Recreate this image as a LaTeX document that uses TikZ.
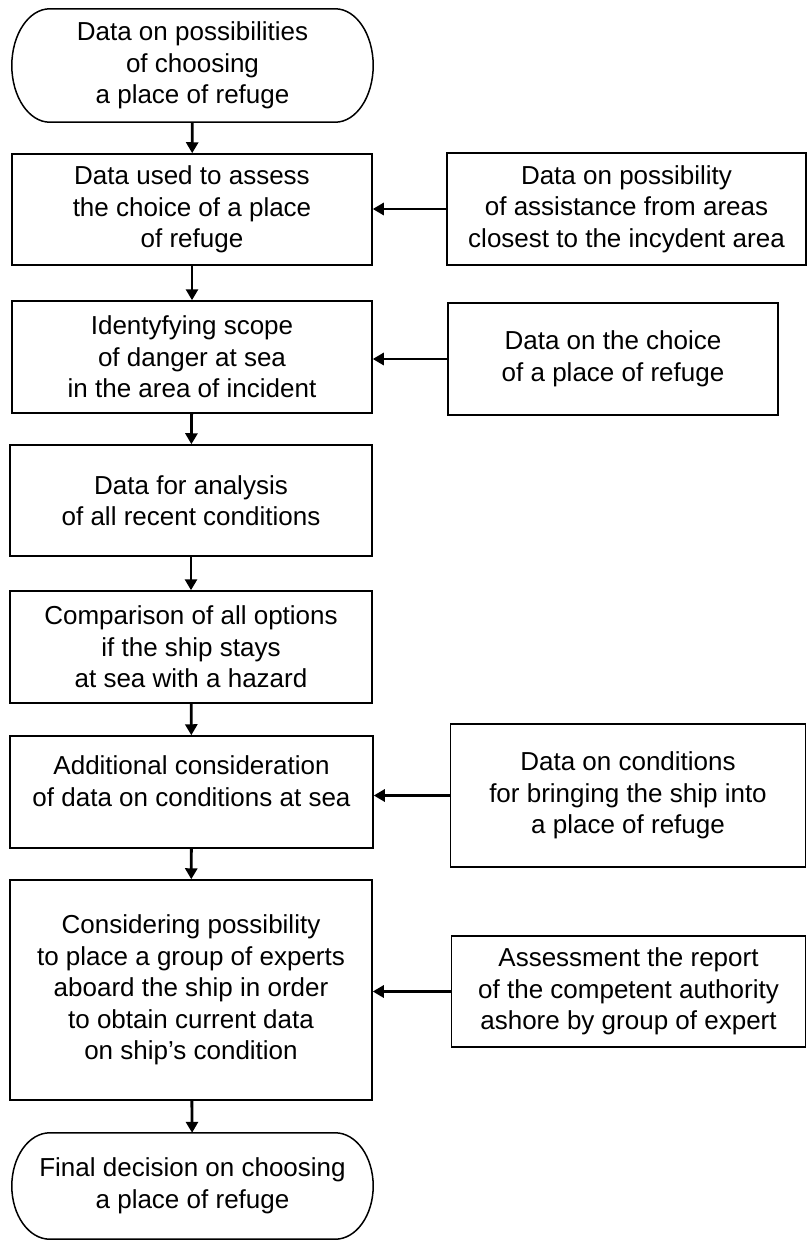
\documentclass[tikz,border=0pt]{standalone}
\usepackage{fontspec}
\setmainfont{Liberation Sans}
\usetikzlibrary{arrows.meta,calc}
\begin{document}
\begin{tikzpicture}[x=1pt,y=-1pt,
  box/.style={draw=black, line width=1.5pt, rectangle, align=center, inner sep=0pt,
    font=\fontsize{26}{31.5}\selectfont},
  termbox/.style={draw=none, rectangle, align=center, inner sep=0pt,
    font=\fontsize{26}{31.5}\selectfont},
  outline/.style={draw=black, line width=1.5pt},
  arr/.style={draw=black, line width=2.8pt, -{Triangle[length=11pt,width=12pt]}}
]
\useasboundingbox (0,0) rectangle (806,1241);
\fill[white] (0,0) rectangle (806,1241);

% left column
\node[termbox, minimum width=361pt, minimum height=113pt] (t1) at (192.5,65.5)
  {Data on possibilities\\of choosing\\a place of refuge};
\node[box, minimum width=360pt, minimum height=111pt] (b1) at (192,209.5)
  {Data used to assess\\the choice of a place\\of refuge};
\node[box, minimum width=360pt, minimum height=112pt] (b2) at (192,357)
  {Identyfying scope\\of danger at sea\\in the area of incident};
\node[box, minimum width=362pt, minimum height=111pt] (b3) at (191,500.5)
  {Data for analysis\\of all recent conditions};
\node[box, minimum width=362pt, minimum height=112pt] (b4) at (191,647)
  {Comparison of all options\\if the ship stays\\at sea with a hazard};
\node[box, minimum width=363pt, minimum height=112pt] (b5) at (191.5,792)
  {Additional consideration\\of data on conditions at sea\\[-10pt]\mbox{}};
\node[box, minimum width=362pt, minimum height=220pt] (b6) at (191,990)
  {Considering possibility\\to place a group of experts\\aboard the ship in order\\to obtain current data\\on ship’s condition};
\node[termbox, minimum width=361pt, minimum height=106pt] (t2) at (192.5,1186)
  {Final decision on choosing\\a place of refuge};

% right column
\node[box, minimum width=359pt, minimum height=112pt] (r1) at (626.5,209)
  {Data on possibility\\of assistance from areas\\closest to the incydent area};
\node[box, minimum width=330pt, minimum height=112pt] (r2) at (613,359)
  {Data on the choice\\of a place of refuge};
\node[box, minimum width=355pt, minimum height=143pt] (r3) at (628,795.5)
  {Data on conditions\\for bringing the ship into\\a place of refuge};
\node[box, minimum width=354pt, minimum height=111pt] (r4) at (628.5,991.5)
  {Assessment the report\\of the competent authority\\ashore by group of expert};

% terminal outlines (elliptical ends)
\foreach \t/\k in {t1/31.2, t2/29.3}{
  \draw[outline] ($(\t.north west)+(38,0)$) -- ($(\t.north east)+(-38,0)$)
    .. controls ($(\t.north east)+(-17,0)$) and ($(\t.east)+(0,-\k)$) .. (\t.east)
    .. controls ($(\t.east)+(0,\k)$) and ($(\t.south east)+(-17,0)$) .. ($(\t.south east)+(-38,0)$)
    -- ($(\t.south west)+(38,0)$)
    .. controls ($(\t.south west)+(17,0)$) and ($(\t.west)+(0,\k)$) .. (\t.west)
    .. controls ($(\t.west)+(0,-\k)$) and ($(\t.north west)+(17,0)$) .. ($(\t.north west)+(38,0)$)
    -- cycle;
}

% vertical connectors
\draw[arr] (t1) -- (b1);
\draw[arr] (b1) -- (b2);
\draw[arr] (b2) -- (b3);
\draw[arr] (b3) -- (b4);
\draw[arr] (b4) -- (b5);
\draw[arr] (b5) -- (b6);
\draw[arr] (b6) -- (t2);

% horizontal connectors
\draw[arr] (r1.west) -- (b1.east |- r1.west);
\draw[arr] (r2.west) -- (b2.east |- r2.west);
\draw[arr] (r3.west) -- (b5.east |- r3.west);
\draw[arr] (r4.west) -- (b6.east |- r4.west);
\end{tikzpicture}
\end{document}
